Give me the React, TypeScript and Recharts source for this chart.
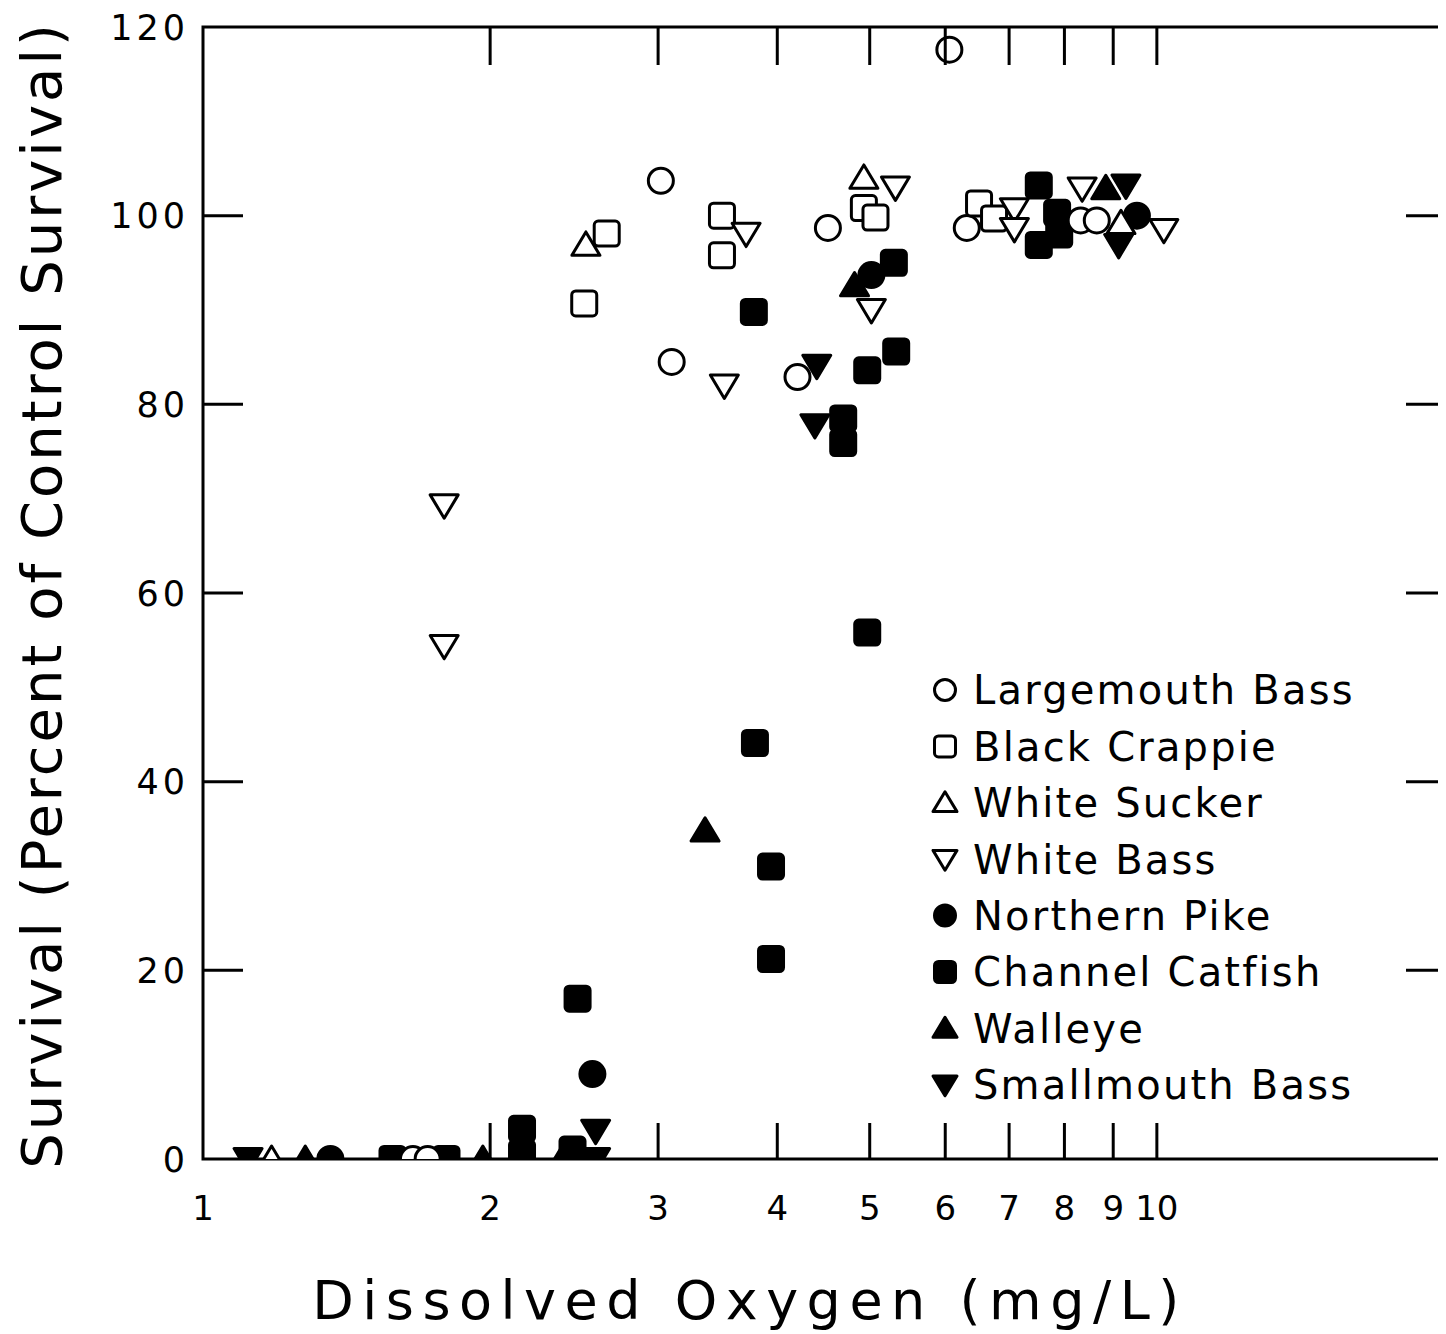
import React from "react";
import { ScatterChart, Scatter, XAxis, YAxis, ReferenceArea, Legend } from "recharts";

// axis ticks
const xTicks = [1, 2, 3, 4, 5, 6, 7, 8, 9, 10];
const yTicks = [0, 20, 40, 60, 80, 100, 120];

// dissolved oxygen (mg/L) / survival (% of control) per species
const largemouthX = [1.66, 1.72, 3.02, 3.1, 4.2, 4.52, 6.06, 6.32, 8.32, 8.65];
const largemouthY = [0, 0, 103.7, 84.5, 82.9, 98.7, 117.6, 98.7, 99.5, 99.5];

const crappieX = [2.51, 2.65, 3.5, 3.5, 4.93, 5.07, 6.51, 6.75];
const crappieY = [90.7, 98.1, 100, 95.8, 100.8, 99.8, 101.3, 99.7];

const suckerX = [1.18, 2.52, 4.93, 9.17];
const suckerY = [0, 96.9, 104, 99.2];

const whiteBassX = [1.79, 1.79, 3.52, 3.71, 5.02, 5.32, 7.09, 7.09, 8.35, 10.17];
const whiteBassY = [69.3, 54.4, 82, 98.1, 90, 103, 100.7, 98.6, 102.9, 98.5];

const pikeX = [1.36, 2.56, 5.02, 9.53];
const pikeY = [0, 9, 93.7, 100];

const catfishX = [1.58, 1.8, 2.16, 2.16, 2.44, 2.47, 3.78, 3.79, 3.94, 3.94, 4.69, 4.69, 4.97, 4.97, 5.3, 5.33, 7.52, 7.52, 7.86, 7.9];
const catfishY = [0, 0, 3.2, 0.6, 1, 17, 89.8, 44.1, 31, 21.2, 78.5, 75.9, 55.8, 83.6, 95, 85.6, 103.2, 96.9, 100.3, 98];

const walleyeX = [1.28, 1.965, 2.38, 3.36, 4.82, 8.84];
const walleyeY = [0, 0, 0, 34.8, 92.6, 102.9];

const smallmouthX = [1.115, 2.58, 2.58, 4.4, 4.38, 9.28, 9.12];
const smallmouthY = [0, 3, 0, 84.1, 77.8, 103.2, 96.9];

const PLOT_W = 1241;
const PLOT_H = 1132;
const FONT = "'DejaVu Sans', sans-serif";

type Kind = "circle" | "square" | "up" | "down";

const Marker = ({ cx, cy, kind, filled, s = 13 }: { cx: number; cy: number; kind: Kind; filled: boolean; s?: number }) => {
  const fill = filled ? "#000" : "#fff";
  const common = { fill, stroke: "#000", strokeWidth: 3, strokeLinejoin: "round" as const };
  if (kind === "circle") return <circle cx={cx} cy={cy} r={s - 0.5} {...common} />;
  if (kind === "square")
    return <rect x={cx - s + 0.5} y={cy - s + 0.5} width={2 * s - 1} height={2 * s - 1} rx={4} {...common} />;
  if (kind === "up")
    return <polygon points={`${cx},${cy - s} ${cx + s + 1},${cy + s * 0.8} ${cx - s - 1},${cy + s * 0.8}`} {...common} />;
  return <polygon points={`${cx - s - 1},${cy - s * 0.8} ${cx + s + 1},${cy - s * 0.8} ${cx},${cy + s}`} {...common} />;
};

const series = [
  { name: "Largemouth Bass", xs: largemouthX, ys: largemouthY, kind: "circle" as Kind, filled: false },
  { name: "Black Crappie", xs: crappieX, ys: crappieY, kind: "square" as Kind, filled: false },
  { name: "White Sucker", xs: suckerX, ys: suckerY, kind: "up" as Kind, filled: false },
  { name: "White Bass", xs: whiteBassX, ys: whiteBassY, kind: "down" as Kind, filled: false },
  { name: "Northern Pike", xs: pikeX, ys: pikeY, kind: "circle" as Kind, filled: true },
  { name: "Channel Catfish", xs: catfishX, ys: catfishY, kind: "square" as Kind, filled: true },
  { name: "Walleye", xs: walleyeX, ys: walleyeY, kind: "up" as Kind, filled: true },
  { name: "Smallmouth Bass", xs: smallmouthX, ys: smallmouthY, kind: "down" as Kind, filled: true },
];

// filled symbols first so open ones sit on top
const drawOrder = [...series.filter((s) => s.filled), ...series.filter((s) => !s.filled)];

const XTick = (props: any) => {
  const { x, y, payload } = props;
  const v = payload.value;
  return (
    <g>
      {v !== 1 && (
        <>
          <line x1={x} x2={x} y1={y} y2={y - 36} stroke="#000" strokeWidth={3} />
          <line x1={x} x2={x} y1={y - PLOT_H} y2={y - PLOT_H + 38} stroke="#000" strokeWidth={3} />
        </>
      )}
      <text x={x} y={y + 61} textAnchor="middle" fontFamily={FONT} fontSize={34} fill="#000">
        {v}
      </text>
    </g>
  );
};

const YTick = (props: any) => {
  const { x, y, payload } = props;
  const v = payload.value;
  return (
    <g>
      {v !== 0 && v !== 120 && (
        <>
          <line x1={x} x2={x + 40} y1={y} y2={y} stroke="#000" strokeWidth={3} />
          <line x1={x + PLOT_W} x2={x + PLOT_W - 38} y1={y} y2={y} stroke="#000" strokeWidth={3} />
        </>
      )}
      <text x={x - 14} y={y} dy="0.36em" textAnchor="end" fontFamily={FONT} fontSize={35} fill="#000" style={{ letterSpacing: 4 }}>
        {v}
      </text>
    </g>
  );
};

const YLabel = (props: any) => {
  const cy = props.viewBox.y + props.viewBox.height / 2 + 2;
  const cx = 53;
  return (
    <text x={cx} y={cy} transform={`rotate(-90 ${cx} ${cy})`} textAnchor="middle" fontFamily={FONT} fontSize={56} fill="#000" style={{ letterSpacing: 3 }}>
      Survival (Percent of Control Survival)
    </text>
  );
};

const XLabel = (props: any) => {
  const y = props.viewBox.y + 160;
  return (
    <text x={742} y={y} textAnchor="middle" fontFamily={FONT} fontSize={54} fill="#000" style={{ letterSpacing: 8.5 }}>
      Dissolved Oxygen (mg/L)
    </text>
  );
};

const LegendBox = () => (
  <svg width={480} height={460}>
    {series.map((s, i) => {
      const cy = 28 + i * 56.4;
      return (
        <g key={s.name}>
          <Marker cx={15} cy={cy} kind={s.kind} filled={s.filled} s={11} />
          <text x={43} y={cy} dy="0.36em" fontFamily={FONT} fontSize={40} fill="#000" style={{ letterSpacing: 2.2 }}>
            {s.name}
          </text>
        </g>
      );
    })}
  </svg>
);

export default function App() {
  return (
    <ScatterChart width={1438} height={1326} margin={{ top: 19, right: 2, left: 0, bottom: 0 }}>
      <XAxis
        dataKey="x"
        type="number"
        scale="log"
        domain={[1, 20]}
        ticks={xTicks}
        interval={0}
        allowDataOverflow
        height={175}
        axisLine={false}
        tickLine={false}
        tickSize={0}
        tickMargin={0}
        tick={<XTick />}
        label={<XLabel />}
      />
      <YAxis
        dataKey="y"
        type="number"
        domain={[0, 120]}
        ticks={yTicks}
        interval={0}
        allowDataOverflow
        width={195}
        axisLine={false}
        tickLine={false}
        tickSize={0}
        tickMargin={0}
        tick={<YTick />}
        label={<YLabel />}
      />
      <ReferenceArea x1={1} x2={20} y1={0} y2={120} fill="none" stroke="#000" strokeWidth={3} ifOverflow="visible" />
      {drawOrder.map((s) => (
        <Scatter
          key={s.name}
          name={s.name}
          data={s.xs.map((x, i) => ({ x, y: s.ys[i] }))}
          isAnimationActive={false}
          shape={(p: any) => <Marker cx={p.cx} cy={p.cy} kind={s.kind} filled={s.filled} />}
        />
      ))}
      <Legend
        layout="vertical"
        align="center"
        verticalAlign="middle"
        content={() => <LegendBox />}
        wrapperStyle={{ left: 922, top: 654, width: 480, height: 460 }}
      />
    </ScatterChart>
  );
}
